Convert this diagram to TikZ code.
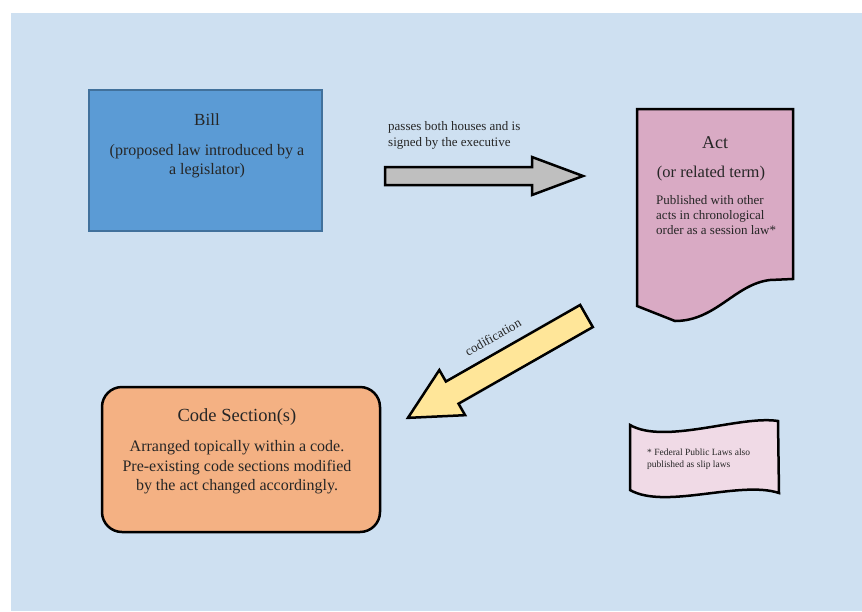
\documentclass[tikz,border=0pt]{standalone}
\usepackage{fontspec}
\setmainfont{Liberation Serif}
\usepackage{tikz}
\tikzstyle{canvas} = [x = 1pt, y = -1pt]
\definecolor{backColor}{RGB}{206,224,241}
\definecolor{billColor}{RGB}{91,155,213}
\definecolor{billLine}{RGB}{65,113,156}
\definecolor{actColor}{RGB}{217,170,196}
\definecolor{noteColor}{RGB}{240,218,230}
\definecolor{codeColor}{RGB}{244,177,131}
\definecolor{passColor}{RGB}{191,191,191}
\definecolor{codifyColor}{RGB}{255,230,153}
\definecolor{textColor}{RGB}{38,38,38}
\tikzstyle{shapeLine} = [draw=black, line width=2.5pt]
\tikzstyle{billBox} = [draw=billLine, fill=billColor, line width=2pt, minimum width=233pt, minimum height=141pt]
\tikzstyle{codeBox} = [shapeLine, fill=codeColor, rounded corners=20pt, minimum width=278pt, minimum height=145pt]
\tikzstyle{titleText} = [font=\fontsize{18}{21}\selectfont, text=textColor, inner sep=0pt]
\tikzstyle{bodyText} = [font=\fontsize{16}{19.5}\selectfont, text=textColor, align=center, inner sep=0pt]
\tikzstyle{smallText} = [font=\fontsize{13}{15}\selectfont, text=textColor, align=left, inner sep=0pt, anchor=west]
\tikzstyle{noteText} = [font=\fontsize{9.5}{12}\selectfont, text=textColor, align=left, inner sep=0pt, anchor=west]
\newcommand{\blockArrow}[8]{
  \begin{scope}[shift={(#1,#2)}, rotate=#3]
    \filldraw [shapeLine, #8] (0,-#5) -- (#4-#7,-#5) -- (#4-#7,-#6) -- (#4,0)
      -- (#4-#7,#6) -- (#4-#7,#5) -- (0,#5) -- cycle;
  \end{scope}
}

\begin{document}
\begin{tikzpicture}[canvas]
            \useasboundingbox (0,0) rectangle (862,611);
            \fill [backColor] (11,13) rectangle (862,611);

            % bill
            \node (bill) [billBox] at (205.5,160.5) {};
            \node (billTitle) [titleText, font=\fontsize{17}{20}\selectfont] at (207,120) {Bill};
            \node (billText) [bodyText, font=\fontsize{16}{19}\selectfont] at (207,161.5) {(proposed law introduced by a\\a legislator)};

            % passes
            \blockArrow{385}{176}{0}{198}{9}{19}{51}{fill=passColor}
            \node (passText) [smallText, font=\fontsize{13}{16}\selectfont] at (388,135) {passes both houses and is\\signed by the executive};

            % act
            \filldraw [shapeLine, fill=actColor] (637,109) -- (793,109) -- (793,279) -- (770,280)
              .. controls (735,284) and (716,321) .. (675,321) -- (637,306) -- cycle;
            \node (actTitle) [titleText] at (715,143) {Act};
            \node (actTerm) [titleText, font=\fontsize{16.5}{20}\selectfont] at (711,174) {(or related term)};
            \node (actText) [smallText] at (656,215) {Published with other\\acts in chronological\\order as a session law*};

            % codification
            \blockArrow{586.5}{316}{209.7}{205.6}{12.75}{26}{51}{fill=codifyColor}
            \node (codifyText) [titleText, font=\fontsize{13}{15}\selectfont, rotate=29.5] at (493,337) {codification};

            % code
            \node (code) [codeBox] at (241,459.5) {};
            \node (codeTitle) [titleText, font=\fontsize{18.5}{21}\selectfont] at (237,417) {Code Section(s)};
            \node (codeText) [bodyText] at (237,467.5) {Arranged topically within a code.\\Pre-existing code sections modified\\by the act changed accordingly.};

            % note
            \filldraw [shapeLine, fill=noteColor] (630,425) .. controls (665,445) and (740,415) .. (778,421)
              -- (779,493) .. controls (740,480) and (665,510) .. (630,490) -- cycle;
            \node (noteText) [noteText] at (647,459) {* Federal Public Laws also\\published as slip laws};
          \end{tikzpicture}
\end{document}
